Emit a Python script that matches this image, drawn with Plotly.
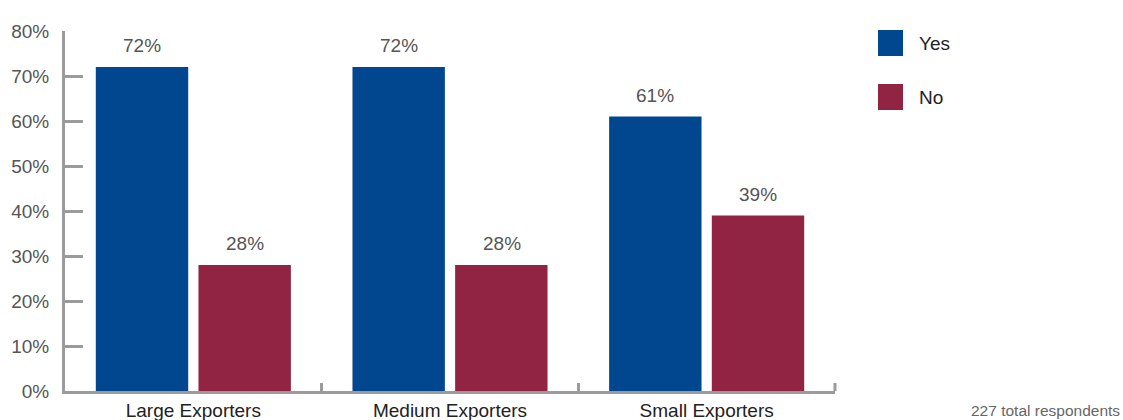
import plotly.graph_objects as go

# Survey results by exporter size
categories = ["Large Exporters", "Medium Exporters", "Small Exporters"]
yes_values = [72, 72, 61]
no_values = [28, 28, 39]
series_names = ["Yes", "No"]
y_ticks = [0, 10, 20, 30, 40, 50, 60, 70, 80]
y_tick_labels = [f"{v}%" for v in y_ticks]
footnote = "227 total respondents"

BLUE = "#00478f"
MAROON = "#912343"
AXIS = "#9b9b9b"
FONT = "Liberation Sans, Arial, Helvetica, sans-serif"

# plot-area geometry in pixels
W, H = 1123, 420
ML, MR, MT, MB = 65, 288, 31, 29
PW, PH = W - ML - MR, H - MT - MB


def px_x(p):
    return (p - ML) / PW


def px_y(p):
    return (H - MB - p) / PH


fig = go.Figure()
for name, vals, col in [(series_names[0], yes_values, BLUE),
                        (series_names[1], no_values, MAROON)]:
    fig.add_trace(go.Bar(name=name, x=categories, y=vals,
                         marker=dict(color=col, line=dict(width=0)),
                         showlegend=False))

# value labels above each bar
slot_shift = 51.5
for vals, sh in [(yes_values, -slot_shift), (no_values, slot_shift)]:
    for c, v in zip(categories, vals):
        fig.add_annotation(x=c, y=v, xref="x", yref="y", text=f"{v}%",
                           showarrow=False, yanchor="bottom", xshift=sh,
                           yshift=9, font=dict(family=FONT, size=19, color="#555555"))

# closing tick at the right end of the category axis
fig.add_shape(type="line", xref="x domain", yref="y domain",
              x0=1, x1=1, y0=0, y1=8 / PH,
              line=dict(color=AXIS, width=3))

# legend swatches and labels
legend_rows = [(series_names[0], BLUE, 30, 56), (series_names[1], MAROON, 84, 110)]
for name, col, top, bot in legend_rows:
    fig.add_shape(type="rect", xref="paper", yref="paper",
                  x0=px_x(878), x1=px_x(903), y0=px_y(bot), y1=px_y(top),
                  fillcolor=col, line=dict(width=0))
    fig.add_annotation(xref="paper", yref="paper", x=px_x(917), y=px_y((top + bot) / 2),
                       text=name, showarrow=False, xanchor="left", yanchor="middle",
                       font=dict(family=FONT, size=19, color="#222222"))

fig.add_annotation(xref="paper", yref="paper", x=px_x(1122), y=px_y(410),
                   text=footnote, showarrow=False, xanchor="right", yanchor="middle",
                   font=dict(family=FONT, size=15.5, color="#666666"))

fig.update_layout(
    width=W, height=H,
    margin=dict(l=ML, r=MR, t=MT, b=MB, pad=0, autoexpand=False),
    paper_bgcolor="white", plot_bgcolor="white",
    barmode="group", bargap=0.2, bargroupgap=0.1,
    font=dict(family=FONT),
    xaxis=dict(
        automargin=False,
        showgrid=False, zeroline=False, showline=True, linecolor=AXIS, linewidth=3,
        ticks="inside", ticklen=8, tickwidth=3, tickcolor=AXIS, tickson="boundaries",
        tickfont=dict(family=FONT, size=19, color="#222222"), ticklabelstandoff=0,
    ),
    yaxis=dict(
        automargin=False,
        range=[0, 80], tickmode="array", tickvals=y_ticks, ticktext=y_tick_labels,
        showgrid=False, zeroline=False, showline=True, linecolor=AXIS, linewidth=3,
        ticks="inside", ticklen=18, tickwidth=3, tickcolor=AXIS,
        tickfont=dict(family=FONT, size=19, color="#555555"), ticklabelstandoff=9,
    ),
)

fig.write_html("out.html")
